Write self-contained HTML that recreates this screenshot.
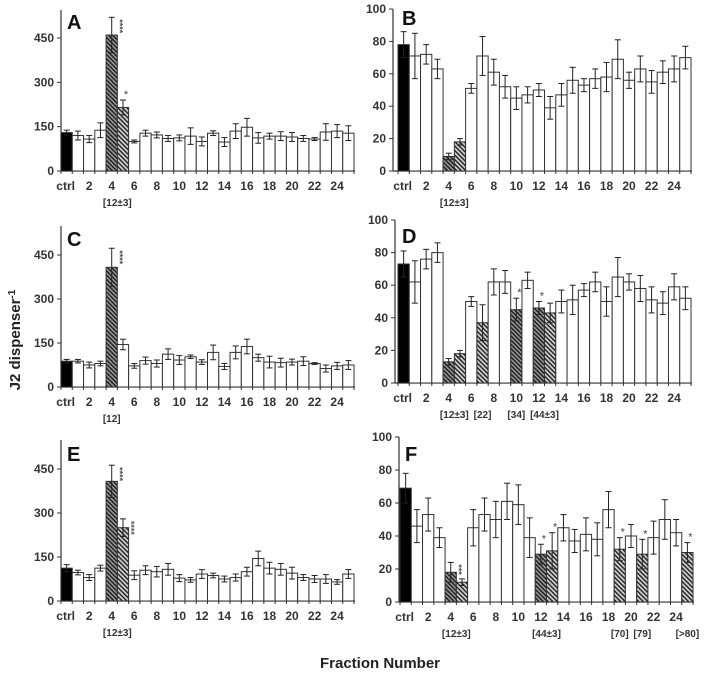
<!DOCTYPE html><html><head><style>body{margin:0;background:#fff}svg{display:block}text{font-family:"Liberation Sans",Arial,sans-serif}</style></head><body>
<svg id="s" width="712" height="681" xmlns="http://www.w3.org/2000/svg">
<defs>
<pattern id="h1" width="3" height="3" patternUnits="userSpaceOnUse" patternTransform="rotate(-45)"><rect width="3" height="3" fill="#999"/><rect width="1.5" height="3" fill="#222"/></pattern>
<pattern id="h2" width="3.2" height="3.2" patternUnits="userSpaceOnUse" patternTransform="rotate(-45)"><rect width="3.2" height="3.2" fill="#ccc"/><rect width="1.4" height="3.2" fill="#222"/></pattern>
</defs>
<text x="20" y="340" transform="rotate(-90 20 340)" text-anchor="middle" font-size="15" font-weight="bold" fill="#222">J2 dispenser<tspan dy="-5" font-size="10">-1</tspan></text>
<text x="380" y="668" text-anchor="middle" font-size="15" font-weight="bold" fill="#222">Fraction Number</text>
</svg>
<script>
const S=document.getElementById('s');const NS='http://www.w3.org/2000/svg';
function el(t,a,txt){const e=document.createElementNS(NS,t);for(const k in a)e.setAttribute(k,a[k]);if(txt!==undefined)e.textContent=txt;S.appendChild(e);return e;}
const W=11.27;
function panel(p){
 const sc=(p.y0-p.ytop)/p.ymax;
 el('line',{x1:p.ax,y1:p.atop,x2:p.ax,y2:p.y0,stroke:'#333','stroke-width':1.2});
 el('line',{x1:p.ax,y1:p.y0,x2:p.bx+26*W+1,y2:p.y0,stroke:'#333','stroke-width':1.2});
 p.ticks.forEach(t=>{const y=p.y0-t*sc;el('line',{x1:p.ax-4,y1:y,x2:p.ax,y2:y,stroke:'#333'});
  el('text',{x:p.ax-7,y:y+4,'text-anchor':'end','font-size':12,'font-weight':'bold',fill:'#333'},t);});
 for(let i=0;i<=26;i++){const x=p.bx+i*W;el('line',{x1:x,y1:p.y0,x2:x,y2:p.y0+3,stroke:'#333'});}
 p.v.forEach((d,i)=>{const [v,e]=d;const x=p.bx+i*W;const h=v*sc;
  let fill='#fff';if(i==0)fill='#000';else if(p.h.includes(i))fill=(i%2?'url(#h2)':'url(#h1)');
  el('rect',{x:x,y:p.y0-h,width:W,height:h,fill:fill,stroke:'#333','stroke-width':1});
  const cx=x+W/2,yt=p.y0-(v+e)*sc,yb=p.y0-Math.max(0,v-e)*sc;
  el('line',{x1:cx,y1:yt,x2:cx,y2:yb,stroke:'#222','stroke-width':1});
  el('line',{x1:cx-3,y1:yt,x2:cx+3,y2:yt,stroke:'#222'});el('line',{x1:cx-3,y1:yb,x2:cx+3,y2:yb,stroke:'#222'});
  if(p.st[i]){const n=p.st[i];const sx=cx+5,sy=yt;
   if(n==1)el('text',{x:cx+3,y:yt-2,'font-size':11,fill:'#444','text-anchor':'middle'},'*');
   else el('text',{x:sx,y:sy+2,'font-size':9,'font-weight':'bold',fill:'#555',transform:`rotate(90 ${sx} ${sy+2})`},'*'.repeat(n));}
 });
 const lab=['ctrl'];for(let i=2;i<=24;i+=2)lab.push(i);
 lab.forEach((l,k)=>{const i=k==0?0:l;el('text',{x:p.bx+i*W+W/2-(k==0?1:0),y:p.y0+19,'text-anchor':'middle','font-size':12,'font-weight':'bold',fill:'#333'},l);});
 p.br.forEach(([i,t])=>el('text',{x:p.bx+i*W+W/2,y:p.y0+35,'text-anchor':'middle','font-size':10,'font-weight':'bold',fill:'#333'},t));
 el('text',{x:p.lx,y:p.ly,'font-size':20,'font-weight':'bold',fill:'#111'},p.L);
}
const T1=[0,150,300,450],T2=[0,20,40,60,80,100];
panel({L:'A',lx:67,ly:29,ax:61,bx:61,y0:171,ytop:38,ymax:450,atop:10,ticks:T1,h:[4,5],st:{4:4,5:1},br:[[4.5,'[12±3]']],
v:[[130,8],[120,15],[108,12],[138,25],[460,60],[215,25],[100,5],[128,10],[122,10],[110,10],[112,10],[118,28],[100,15],[128,8],[98,15],[135,25],[148,30],[112,18],[118,10],[118,15],[115,15],[110,10],[108,5],[132,28],[135,22],[128,25]]});
panel({L:'B',lx:402,ly:25,ax:393,bx:398,y0:171,ytop:9,ymax:100,atop:9,ticks:T2,h:[4,5],st:{4:4,5:4},br:[[4.5,'[12±3]']],
v:[[78,8],[71,14],[72,6],[63,6],[9,2],[18,2],[51,3],[71,12],[61,8],[52,7],[45,7],[47,5],[50,4],[39,7],[47,7],[56,8],[53,4],[57,6],[58,9],[69,12],[56,5],[63,8],[55,7],[61,7],[63,8],[70,7]]});
panel({L:'C',lx:67,ly:246,ax:61,bx:61,y0:387,ytop:255,ymax:450,atop:226,ticks:T1,h:[4],st:{4:4},br:[[4,'[12]']],
v:[[88,6],[88,6],[75,10],[80,8],[408,65],[145,18],[72,8],[90,12],[80,12],[112,18],[92,15],[103,6],[85,8],[118,25],[70,10],[118,22],[138,25],[100,12],[85,20],[83,15],[85,10],[88,15],[80,3],[63,12],[72,12],[75,15]]});
panel({L:'D',lx:402,ly:243,ax:395,bx:398,y0:383,ytop:220,ymax:100,atop:220,ticks:T2,h:[4,5,7,10,12,13],st:{4:4,5:4,7:3,10:1,12:1,13:2},br:[[4.5,'[12±3]'],[7,'[22]'],[10,'[34]'],[12.5,'[44±3]']],
v:[[73,8],[62,13],[76,6],[80,6],[13,2],[18,2],[50,3],[37,11],[62,8],[62,7],[45,7],[63,5],[46,4],[43,6],[50,7],[51,9],[57,4],[62,6],[50,9],[65,12],[62,5],[58,8],[51,8],[49,7],[59,8],[52,7]]});
panel({L:'E',lx:67,ly:461,ax:61,bx:61,y0:601,ytop:469,ymax:450,atop:440,ticks:T1,h:[4,5],st:{4:4,5:4},br:[[4.5,'[12±3]']],
v:[[112,12],[97,8],[80,10],[112,10],[408,55],[250,30],[88,15],[105,15],[100,18],[108,20],[78,12],[72,8],[92,15],[87,8],[75,10],[80,12],[100,15],[145,25],[112,20],[108,20],[95,20],[80,10],[75,12],[75,15],[65,8],[92,15]]});
panel({L:'F',lx:405,ly:461,ax:399,bx:400,y0:602,ytop:437,ymax:100,atop:437,ticks:T2,h:[4,5,12,13,19,21,25],st:{4:3,5:4,12:1,13:1,19:1,21:1,25:1},br:[[4.5,'[12±3]'],[12.5,'[44±3]'],[19,'[70]'],[21,'[79]'],[25,'[>80]']],
v:[[69,9],[46,10],[53,10],[39,6],[18,6],[12,2],[45,11],[53,10],[50,11],[61,11],[59,12],[39,12],[29,6],[31,11],[45,8],[37,7],[41,10],[38,10],[56,11],[32,7],[40,7],[29,9],[39,10],[50,12],[42,8],[30,6]]});
</script></body></html>
